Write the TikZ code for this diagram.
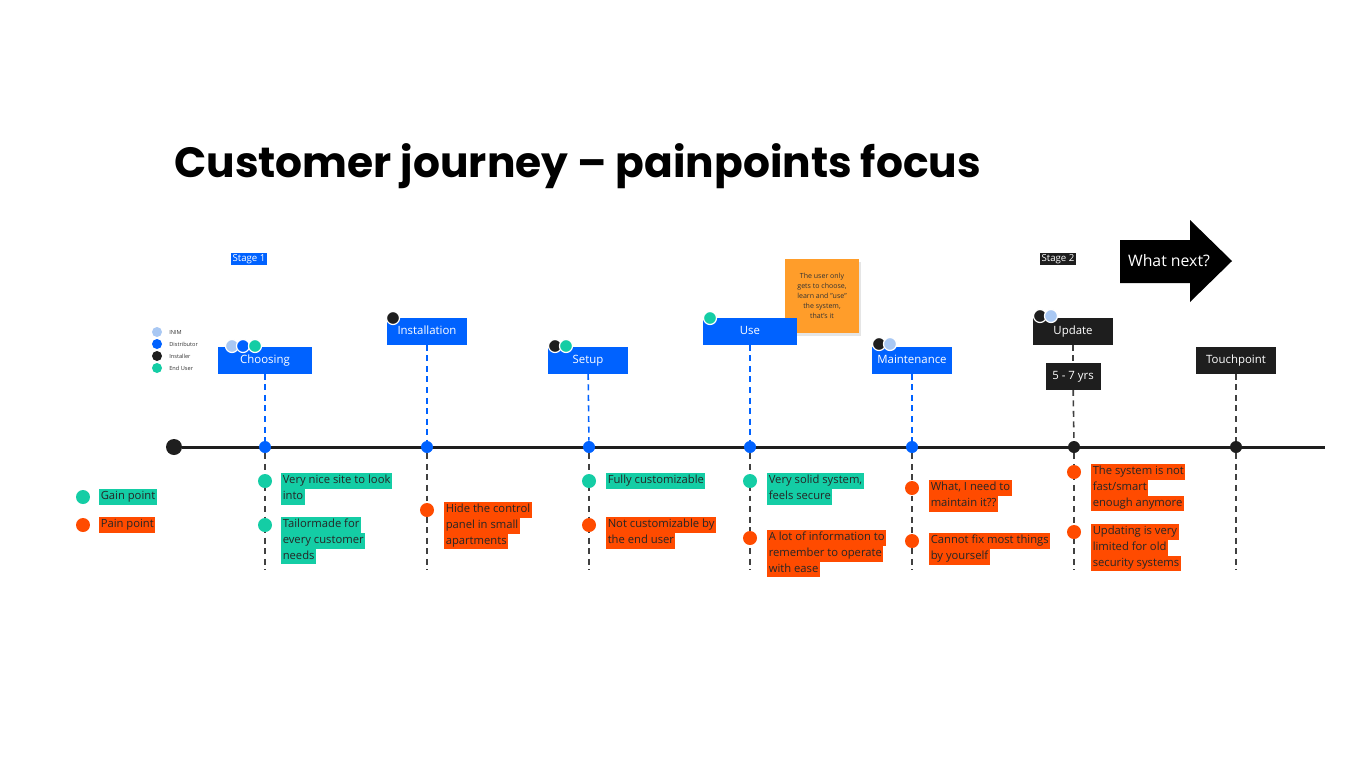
\documentclass[tikz,border=0pt]{standalone}
\usepackage{fontspec}
\setmainfont{Open Sans}
\newfontfamily\titlefont{Poppins}
\usetikzlibrary{backgrounds,shadows}

\definecolor{inimblue}{HTML}{0062FF}
\definecolor{lightp}{HTML}{A9C8F3}
\definecolor{darkp}{HTML}{1E1E1E}
\definecolor{gain}{HTML}{14CDA5}
\definecolor{pain}{HTML}{FF4B00}
\definecolor{sticky}{HTML}{FF9D2A}

% one highlighted line of text
\newcommand\hlline[2]{{\setlength\fboxsep{0.8pt}\colorbox{#1}{\rule[-2pt]{0pt}{7.2pt}#2}}}
\newcommand\hlgain[1]{\hlline{gain}{#1}}
\newcommand\hlpain[1]{\hlline{pain}{#1}}

\tikzset{
  stagebox/.style={fill=inimblue, text=white, minimum height=0.54cm, minimum width=1.6cm,
    inner sep=0pt, text height=4.8pt, text depth=1.2pt, font=\fontsize{6.5}{7}\selectfont},
  touchbox/.style={stagebox, fill=darkp},
  tldot/.style={circle, fill=inimblue, inner sep=0pt, minimum size=0.24cm},
  persona/.style={circle, draw=white, line width=0.7pt, inner sep=0pt, minimum size=0.26cm},
  keydot/.style={circle, inner sep=0pt, minimum size=0.2cm},
  keytext/.style={anchor=west, inner sep=0pt, text=black!80, font=\fontsize{3.2}{4}\selectfont},
  gaindot/.style={circle, fill=gain, inner sep=0pt, minimum size=0.28cm},
  paindot/.style={gaindot, fill=pain},
  note/.style={anchor=north west, inner sep=0pt, align=left, text=black!85,
    font=\fontsize{6.4}{9}\selectfont},
  bluedash/.style={inimblue, line width=0.9pt, dash pattern=on 3.4pt off 2.6pt},
  greydash/.style={darkp!85, line width=0.9pt, dash pattern=on 3.4pt off 2.6pt},
}

\begin{document}
\begin{tikzpicture}[x=0.02cm, y=-0.02cm]
\useasboundingbox (0,0) rectangle (1366,768);

\node[anchor=base west, inner sep=0pt, font=\titlefont\bfseries\fontsize{24.1}{29}\selectfont] (title) at (174,177) {Customer journey – painpoints focus};

% stages
\node[fill=inimblue, text=white, inner sep=1pt, font=\fontsize{5.5}{6}\selectfont] (stage1) at (249,259) {Stage 1};
\node[fill=darkp, text=white, inner sep=1pt, font=\fontsize{5.5}{6}\selectfont] (stage2) at (1058,259) {Stage 2};

\fill[black] (1120,240) -- (1190,240) -- (1190,220) -- (1232,261) -- (1190,302) -- (1190,283) -- (1120,283) -- cycle;
\node[text=white, font=\fontsize{9}{10}\selectfont] (next) at (1169,261) {What next?};

\node[fill=sticky, minimum width=1.48cm, minimum height=1.48cm, align=center, text=black!80,
  font=\fontsize{4}{5.6}\selectfont, drop shadow={opacity=0.2, shadow xshift=1pt, shadow yshift=-1.5pt}]
  (sticky) at (822,296) {The user only\\gets to choose,\\learn and "use"\\the system,\\that's it};

% touchpoints
\node[stagebox, minimum width=1.88cm] (choosing) at (265,360) {Choosing};
\node[stagebox] (installation) at (427,331) {Installation};
\node[stagebox] (setup) at (588,360) {Setup};
\node[stagebox, minimum width=1.88cm] (use) at (750,331) {Use};
\node[stagebox] (maintenance) at (912,360) {Maintenance};
\node[touchbox] (update) at (1073,331) {Update};
\node[touchbox, minimum width=1.1cm] (yrs) at (1073,376) {5 - 7 yrs};
\node[touchbox] (touchpoint) at (1236,360) {Touchpoint};

% timeline
\node[circle, fill=darkp, inner sep=0pt, minimum size=0.32cm] (start) at (174,447) {};
\coordinate (end) at (1325,447);
\node[tldot] (dchoosing) at (265,447) {};
\node[tldot] (dinstallation) at (427,447) {};
\node[tldot] (dsetup) at (589,447) {};
\node[tldot] (duse) at (750,447) {};
\node[tldot] (dmaintenance) at (912,447) {};
\node[tldot, fill=darkp] (dupdate) at (1074,447) {};
\node[tldot, fill=darkp] (dtouchpoint) at (1236,447) {};

\coordinate (echoosing) at (265,570);
\coordinate (einstallation) at (427,570);
\coordinate (esetup) at (589,570);
\coordinate (euse) at (750,570);
\coordinate (emaintenance) at (912,570);
\coordinate (eupdate) at (1074,570);
\coordinate (etouchpoint) at (1236,570);

\begin{scope}[on background layer]
\fill[white] (0,0) rectangle (1366,768);
\draw[line width=1.7pt, darkp] (start) -- (end);
\draw[bluedash] (choosing) -- (dchoosing);
\draw[bluedash] (installation) -- (dinstallation);
\draw[bluedash] (setup) -- (dsetup);
\draw[bluedash] (use) -- (duse);
\draw[bluedash] (maintenance) -- (dmaintenance);
\draw[greydash] (update) -- (yrs);
\draw[greydash] (yrs) -- (dupdate);
\draw[greydash] (touchpoint) -- (dtouchpoint);
\foreach \s in {choosing,installation,setup,use,maintenance,update,touchpoint}
  \draw[greydash] (d\s) -- (e\s);
\end{scope}

% who is involved
\node[persona, fill=lightp] (pchoosing1) at (232,346) {};
\node[persona, fill=inimblue] (pchoosing2) at (243,346) {};
\node[persona, fill=gain] (pchoosing3) at (255,346) {};
\node[persona, fill=darkp] (pinstallation1) at (393,318) {};
\node[persona, fill=darkp] (psetup1) at (555,346) {};
\node[persona, fill=gain] (psetup2) at (566,346) {};
\node[persona, fill=gain] (puse1) at (710,318) {};
\node[persona, fill=darkp] (pmaintenance1) at (879,344) {};
\node[persona, fill=lightp] (pmaintenance2) at (890,344) {};
\node[persona, fill=darkp] (pupdate1) at (1040,316) {};
\node[persona, fill=lightp] (pupdate2) at (1051,316) {};

\node[keydot, fill=lightp] (kinim) at (157,332) {};
\node[keytext] (tinim) at (169,332) {INIM};
\node[keydot, fill=inimblue] (kdistributor) at (157,344) {};
\node[keytext] (tdistributor) at (169,344) {Distributor};
\node[keydot, fill=darkp] (kinstaller) at (157,356) {};
\node[keytext] (tinstaller) at (169,356) {Installer};
\node[keydot, fill=gain] (kenduser) at (157,368) {};
\node[keytext] (tenduser) at (169,368) {End User};

% gain and pain points
\node[gaindot] (lgain) at (83,497) {};
\node[note, anchor=west] (lgaintext) at (99,497) {\hlgain{Gain point}};
\node[paindot] (lpain) at (83,525) {};
\node[note, anchor=west] (lpaintext) at (99,525) {\hlpain{Pain point}};

\node[gaindot] (gchoosing1) at (265,481) {};
\node[note] (tchoosing1) at (281,473) {\hlgain{Very nice site to look}\\\hlgain{into}};
\node[gaindot] (gchoosing2) at (265,525) {};
\node[note] (tchoosing2) at (281,517) {\hlgain{Tailormade for}\\\hlgain{every customer}\\\hlgain{needs}};

\node[paindot] (pinstall1) at (427,510) {};
\node[note] (tinstall1) at (444,502) {\hlpain{Hide the control}\\\hlpain{panel in small}\\\hlpain{apartments}};

\node[gaindot] (gsetup1) at (589,481) {};
\node[note] (tsetup1) at (606,473) {\hlgain{Fully customizable}};
\node[paindot] (psetup1p) at (589,525) {};
\node[note] (tsetup2) at (606,517) {\hlpain{Not customizable by}\\\hlpain{the end user}};

\node[gaindot] (guse1) at (750,481) {};
\node[note] (tuse1) at (767,473) {\hlgain{Very solid system,}\\\hlgain{feels secure}};
\node[paindot] (puse1p) at (750,538) {};
\node[note] (tuse2) at (767,530) {\hlpain{A lot of information to}\\\hlpain{remember to operate}\\\hlpain{with ease}};

\node[paindot] (pmaint1) at (912,488) {};
\node[note] (tmaint1) at (929,480) {\hlpain{What, I need to}\\\hlpain{maintain it??}};
\node[paindot] (pmaint2) at (912,541) {};
\node[note] (tmaint2) at (929,533) {\hlpain{Cannot fix most things}\\\hlpain{by yourself}};

\node[paindot] (pupd1) at (1074,472) {};
\node[note] (tupd1) at (1091,464) {\hlpain{The system is not}\\\hlpain{fast/smart}\\\hlpain{enough anymore}};
\node[paindot] (pupd2) at (1074,532) {};
\node[note] (tupd2) at (1091,524) {\hlpain{Updating is very}\\\hlpain{limited for old}\\\hlpain{security systems}};
\end{tikzpicture}
\end{document}
